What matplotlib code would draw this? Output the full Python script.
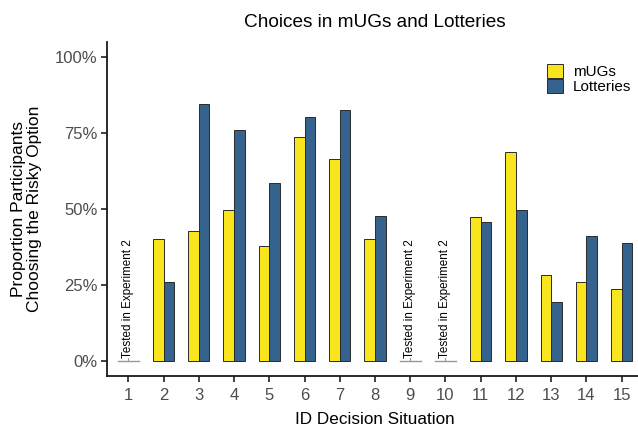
import numpy as np
import matplotlib
matplotlib.use("Agg")
import matplotlib.pyplot as plt

plt.rcParams['font.family'] = ['Liberation Sans', 'DejaVu Sans']

## Data
situations = list(range(1, 16))
mugs =      [0.0, 0.403, 0.427, 0.498, 0.379, 0.737, 0.666, 0.403, 0.0, 0.0, 0.474, 0.688, 0.285, 0.261, 0.239]
lotteries = [0.0, 0.260, 0.846, 0.760, 0.586, 0.802, 0.824, 0.478, 0.0, 0.0, 0.456, 0.498, 0.196, 0.412, 0.390]
exp2_only = [1, 9, 10]   # situations tested in experiment 2 only

yticks = [0, 0.25, 0.5, 0.75, 1.0]
ytick_labels = ["0%", "25%", "50%", "75%", "100%"]

col_mugs = "#F9E51D"
col_lott = "#35638E"
txt_grey = "#4D4D4D"

fig = plt.figure(figsize=(6.38, 4.26), dpi=100)
ax = fig.add_axes([0.168, 0.1162, 0.8395, 0.786])

x = np.array(situations)
w = 0.3
for i, s in enumerate(situations):
    if s in exp2_only:
        # zero-height bars show up only as grey outlines
        ax.plot([s - w, s + w], [0, 0], color="#999999", lw=1.0, zorder=2)
        ax.plot([s, s], [0, 0.012], color="#999999", lw=0.8, zorder=2)
        ax.text(s, 0.012, "Tested in Experiment 2", rotation=90, ha="center",
                va="bottom", fontsize=8.4, color="black")
        continue
    ax.bar(s - w / 2, mugs[i], width=w, color=col_mugs, edgecolor="#2a2a2a",
           linewidth=0.7, zorder=3, label="mUGs" if i == 1 else None)
    ax.bar(s + w / 2, lotteries[i], width=w, color=col_lott, edgecolor="#2a2a2a",
           linewidth=0.7, zorder=3, label="Lotteries" if i == 1 else None)

ax.set_xlim(0.4, 15.6)
ax.set_ylim(-0.05, 1.05)
ax.set_xticks(x)
ax.set_xticklabels([str(s) for s in situations])
ax.set_yticks(yticks)
ax.set_yticklabels(ytick_labels)

for side in ["top", "right"]:
    ax.spines[side].set_visible(False)
for side in ["left", "bottom"]:
    ax.spines[side].set_linewidth(1.3)
    ax.spines[side].set_color("#1a1a1a")
ax.tick_params(axis="both", length=4, width=1.3, color="#333333",
               labelsize=12, labelcolor=txt_grey, pad=3)
ax.tick_params(axis="x", pad=4)

ax.set_xlabel("ID Decision Situation", fontsize=12.3, labelpad=6.5)
ax.set_ylabel("Proportion Participants\nChoosing the Risky Option", fontsize=12.5,
              labelpad=9, linespacing=1.15)
ax.set_title("Choices in mUGs and Lotteries", fontsize=13.7, pad=10.5)

leg = ax.legend(loc="upper left", bbox_to_anchor=(0.8215, 0.934), frameon=False,
                fontsize=11, handlelength=1.05, handleheight=1.05,
                handletextpad=0.65, labelspacing=0.0, borderaxespad=0,
                borderpad=0)

fig.savefig("out.png", dpi=100)
